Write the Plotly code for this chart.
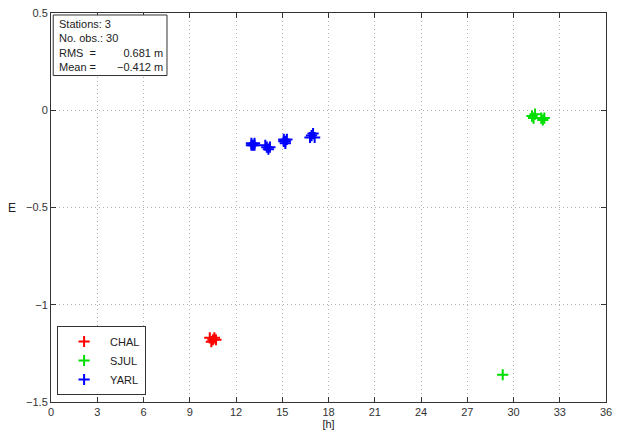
import plotly.graph_objects as go

# Data (hours, E in m)
chal_x = [10.3, 10.5, 10.6, 10.4, 10.7]
chal_y = [-1.17, -1.18, -1.17, -1.19, -1.18]
sjul_x = [31.2, 31.3, 31.4, 31.8, 31.9, 32.0, 29.3]
sjul_y = [-0.03, -0.04, -0.02, -0.04, -0.05, -0.04, -1.36]
yarl_x = [13.0, 13.1, 13.2, 13.0, 13.2, 13.9, 14.0, 14.1, 14.2,
          15.1, 15.2, 15.3, 15.2, 15.1, 16.8, 16.9, 17.0, 17.1]
yarl_y = [-0.17, -0.18, -0.17, -0.18, -0.18, -0.18, -0.19, -0.20, -0.19,
          -0.15, -0.16, -0.15, -0.17, -0.16, -0.14, -0.13, -0.12, -0.14]
series = [("CHAL", chal_x, chal_y, "#ff0000"),
          ("SJUL", sjul_x, sjul_y, "#00dd00"),
          ("YARL", yarl_x, yarl_y, "#0000ff")]
x_ticks = list(range(0, 37, 3))
y_ticks = [0.5, 0, -0.5, -1, -1.5]
y_tick_text = ["0.5", "0", "\u22120.5", "\u22121", "\u22121.5"]
info_labels = ["Stations: 3", "No. obs.: 30", "RMS  =", "Mean ="]
info_values = ["0.681 m", "\u22120.412 m"]

fig = go.Figure()
for name, xs, ys, col in series:
    fig.add_trace(go.Scatter(
        x=xs, y=ys, mode="markers", name=name,
        marker=dict(symbol="cross-thin", size=8, color=col,
                    line=dict(color=col, width=2))))

font = dict(family="Liberation Sans, Arial, sans-serif", size=11, color="#222")
axis_common = dict(showline=True, linecolor="#333", linewidth=1, mirror="allticks",
                   ticks="inside", ticklen=5, tickcolor="#333",
                   showgrid=True, gridcolor="#b0b0b0", griddash="1px,3px", gridwidth=1,
                   zeroline=False, tickfont=dict(family="Liberation Sans, Arial, sans-serif", size=11, color="#333"))

fig.update_layout(
    width=618, height=434,
    margin=dict(l=51, r=6, t=13, b=29),
    paper_bgcolor="white", plot_bgcolor="white",
    font=font,
    xaxis=dict(range=[0, 36], tickvals=x_ticks, title=dict(text="[h]", standoff=2, font=dict(size=11)), **axis_common),
    yaxis=dict(range=[-1.5, 0.5], tickvals=y_ticks, ticktext=y_tick_text, **axis_common),
    legend=dict(x=0.011, y=0.018, xanchor="left", yanchor="bottom",
                bgcolor="white", bordercolor="#333", borderwidth=1,
                font=dict(size=11, color="#222"), itemwidth=42,
                tracegroupgap=0),
    showlegend=True,
)

# y label (horizontal, like the reference)
fig.add_annotation(xref="paper", yref="paper", x=(12 - 51) / 561, y=0.5,
                   xanchor="center", yanchor="middle", showarrow=False, textangle=0,
                   text="E", font=dict(size=12, color="#222"))

# info box
fig.add_shape(type="rect", xref="paper", yref="paper",
              x0=0.004, x1=0.209, y0=(405 - 76) / 392, y1=(405 - 15) / 392,
              line=dict(color="#333", width=1), fillcolor="white", layer="above")
fig.add_annotation(xref="paper", yref="paper", x=0.011, y=(405 - 16) / 392,
                   xanchor="left", yanchor="top", align="left", showarrow=False,
                   text="<br>".join(info_labels), font=dict(size=11, color="#222"))
fig.add_annotation(xref="paper", yref="paper", x=0.206, y=(405 - 16) / 392,
                   xanchor="right", yanchor="top", align="right", showarrow=False,
                   text="<br>".join([" ", " "] + info_values), font=dict(size=11, color="#222"))

fig.write_html("out.html")
